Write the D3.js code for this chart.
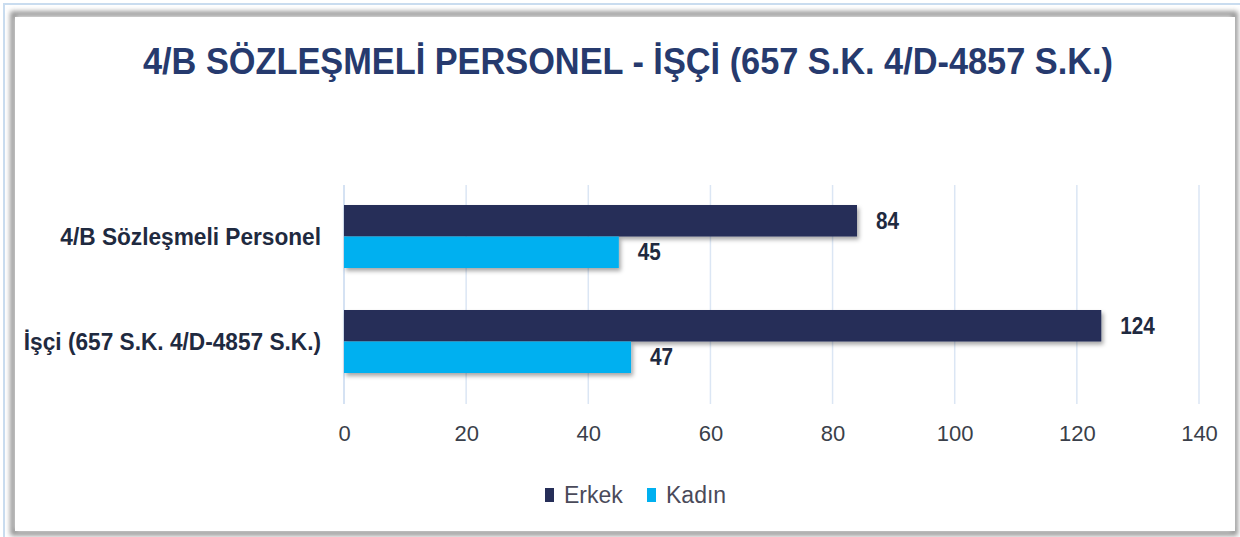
<!DOCTYPE html>
<html><head><meta charset="utf-8">
<script src="https://cdn.jsdelivr.net/npm/d3@7"></script>
<style>body{margin:0;background:#fff;}svg{display:block;}</style>
</head><body>
<svg id="c" width="1240" height="537"></svg>
<script>
const title = "4/B SÖZLEŞMELİ PERSONEL - İŞÇİ (657 S.K. 4/D-4857 S.K.)";
const categories = ["4/B Sözleşmeli Personel", "İşçi (657 S.K. 4/D-4857 S.K.)"];
const seriesNames = ["Erkek", "Kadın"];
const erkek = [84, 124];
const kadin = [45, 47];
const tickValues = [0, 20, 40, 60, 80, 100, 120, 140];
const colors = ["#262e58", "#00b0f0"];

const FONT = "'Liberation Sans', Arial, sans-serif";
function condense(sel, k){
  sel.each(function(){
    const w = this.getComputedTextLength();
    d3.select(this).attr("textLength", w*k).attr("lengthAdjust","spacingAndGlyphs");
  });
}

const svg = d3.select("#c");
const defs = svg.append("defs");
const f = defs.append("filter").attr("id","sh").attr("x","-5%").attr("y","-30%").attr("width","110%").attr("height","180%");
f.append("feDropShadow").attr("dx",2).attr("dy",3).attr("stdDeviation",2).attr("flood-color","#000").attr("flood-opacity",0.35);
const ff = defs.append("filter").attr("id","fs").attr("x","-5%").attr("y","-5%").attr("width","110%").attr("height","110%");
ff.append("feGaussianBlur").attr("stdDeviation",2.5);

// frame
svg.append("rect").attr("x",4).attr("y",4).attr("width",1240).attr("height",540).attr("fill","none").attr("stroke","#c9dcef").attr("stroke-width",2);
svg.append("rect").attr("x",13).attr("y",14).attr("width",1222).attr("height",519).attr("fill","none").attr("stroke","#8a8a8a").attr("stroke-width",5).attr("filter","url(#fs)");
svg.append("rect").attr("x",15).attr("y",17).attr("width",1220).attr("height",514).attr("fill","#fff");

const x = d3.scaleLinear().domain([0,140]).range([344,1199]);
const y0 = d3.scaleBand().domain(categories).range([184,394]).paddingInner(0.4).paddingOuter(0.2);
const y1 = d3.scaleBand().domain(seriesNames).range([0,y0.bandwidth()]);

// gridlines
svg.append("g").selectAll("line").data(tickValues.slice(1)).join("line")
  .attr("x1",d=>x(d)).attr("x2",d=>x(d)).attr("y1",185).attr("y2",404)
  .attr("stroke","#dbe6f4").attr("stroke-width",1.5);
svg.append("line").attr("x1",x(0)).attr("x2",x(0)).attr("y1",185).attr("y2",404).attr("stroke","#d5e2f3").attr("stroke-width",2);

// title
svg.append("text").attr("x",628).attr("y",74).attr("text-anchor","middle")
  .attr("font-family",FONT).attr("font-weight","bold")
  .attr("font-size",37).attr("fill","#263a6e").attr("textLength",970).attr("lengthAdjust","spacingAndGlyphs").text(title);

const data = categories.map((c,i)=>({c, vals:[{s:"Erkek",v:erkek[i]},{s:"Kadın",v:kadin[i]}]}));
const g = svg.append("g").selectAll("g").data(data).join("g").attr("transform",d=>`translate(0,${y0(d.c)})`);
g.selectAll("rect").data(d=>d.vals).join("rect")
  .attr("x",x(0)).attr("y",d=>y1(d.s)).attr("height",y1.bandwidth()).attr("width",d=>x(d.v)-x(0))
  .attr("fill",(d,i)=>colors[i]).attr("filter","url(#sh)");
g.selectAll("text").data(d=>d.vals).join("text")
  .attr("x",d=>x(d.v)+19).attr("y",d=>y1(d.s)+y1.bandwidth()/2+8)
  .attr("font-family",FONT).attr("font-weight","bold").attr("font-size",23)
  .attr("fill","#1f2a40").text(d=>d.v).call(condense,0.9);

// category labels
const yAxis = d3.axisLeft(y0).tickSize(0).tickPadding(23);
const ya = svg.append("g").attr("transform",`translate(${x(0)},0)`).call(yAxis);
ya.select(".domain").remove();
ya.selectAll("text").attr("font-family",FONT).attr("font-weight","bold")
  .attr("font-size",23).attr("fill","#1f2a40").attr("dy","0.38em").call(condense,0.985);

// x axis
const xAxis = d3.axisBottom(x).tickValues(tickValues).tickSize(0).tickPadding(0);
const xa = svg.append("g").attr("transform","translate(0,433)").call(xAxis);
xa.select(".domain").remove();
xa.selectAll("text").attr("font-family",FONT).attr("font-size",22).attr("fill","#3a3f4a").attr("dy","0.35em");

// legend
const leg = svg.append("g").selectAll("g").data(seriesNames).join("g")
  .attr("transform",(d,i)=>`translate(${[545,647][i]},488)`);
leg.append("rect").attr("width",9).attr("height",14).attr("fill",(d,i)=>colors[i]);
leg.append("text").attr("x",19).attr("y",15).attr("font-family",FONT)
  .attr("font-size",23).attr("fill","#4a4a5a").text(d=>d);
</script>
</body></html>
